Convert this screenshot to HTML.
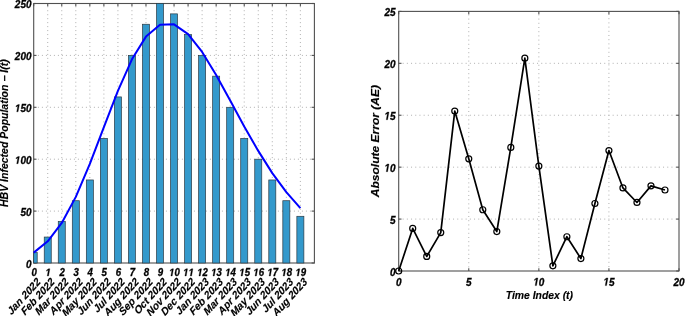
<!DOCTYPE html>
<html><head><meta charset="utf-8"><style>
html,body{margin:0;padding:0;background:#fff;width:685px;height:316px;overflow:hidden}
svg{display:block}
text.lt{stroke-width:0.15px}
.g1{fill:#000;stroke:#000;stroke-width:0.3px;vector-effect:non-scaling-stroke}
text{font-family:"Liberation Sans",sans-serif;font-weight:bold;font-style:italic;font-size:10.5px;fill:#000;stroke:#000;stroke-width:0.3px}
</style></head><body>
<div style="will-change:transform"><svg width="685" height="316" viewBox="0 0 685 316">
<line x1="47.73" y1="3.5" x2="47.73" y2="263" stroke="#b0b0b0" stroke-width="1" stroke-dasharray="1 2.970" stroke-dashoffset="1.210"/>
<line x1="61.77" y1="3.5" x2="61.77" y2="263" stroke="#b0b0b0" stroke-width="1" stroke-dasharray="1 2.970" stroke-dashoffset="1.210"/>
<line x1="75.81" y1="3.5" x2="75.81" y2="263" stroke="#b0b0b0" stroke-width="1" stroke-dasharray="1 2.970" stroke-dashoffset="1.210"/>
<line x1="89.84" y1="3.5" x2="89.84" y2="263" stroke="#b0b0b0" stroke-width="1" stroke-dasharray="1 2.970" stroke-dashoffset="1.210"/>
<line x1="103.88" y1="3.5" x2="103.88" y2="263" stroke="#b0b0b0" stroke-width="1" stroke-dasharray="1 2.970" stroke-dashoffset="1.210"/>
<line x1="117.91" y1="3.5" x2="117.91" y2="263" stroke="#b0b0b0" stroke-width="1" stroke-dasharray="1 2.970" stroke-dashoffset="1.210"/>
<line x1="131.94" y1="3.5" x2="131.94" y2="263" stroke="#b0b0b0" stroke-width="1" stroke-dasharray="1 2.970" stroke-dashoffset="1.210"/>
<line x1="145.98" y1="3.5" x2="145.98" y2="263" stroke="#b0b0b0" stroke-width="1" stroke-dasharray="1 2.970" stroke-dashoffset="1.210"/>
<line x1="160.01" y1="3.5" x2="160.01" y2="263" stroke="#b0b0b0" stroke-width="1" stroke-dasharray="1 2.970" stroke-dashoffset="1.210"/>
<line x1="174.05" y1="3.5" x2="174.05" y2="263" stroke="#b0b0b0" stroke-width="1" stroke-dasharray="1 2.970" stroke-dashoffset="1.210"/>
<line x1="188.08" y1="3.5" x2="188.08" y2="263" stroke="#b0b0b0" stroke-width="1" stroke-dasharray="1 2.970" stroke-dashoffset="1.210"/>
<line x1="202.12" y1="3.5" x2="202.12" y2="263" stroke="#b0b0b0" stroke-width="1" stroke-dasharray="1 2.970" stroke-dashoffset="1.210"/>
<line x1="216.15" y1="3.5" x2="216.15" y2="263" stroke="#b0b0b0" stroke-width="1" stroke-dasharray="1 2.970" stroke-dashoffset="1.210"/>
<line x1="230.19" y1="3.5" x2="230.19" y2="263" stroke="#b0b0b0" stroke-width="1" stroke-dasharray="1 2.970" stroke-dashoffset="1.210"/>
<line x1="244.23" y1="3.5" x2="244.23" y2="263" stroke="#b0b0b0" stroke-width="1" stroke-dasharray="1 2.970" stroke-dashoffset="1.210"/>
<line x1="258.26" y1="3.5" x2="258.26" y2="263" stroke="#b0b0b0" stroke-width="1" stroke-dasharray="1 2.970" stroke-dashoffset="1.210"/>
<line x1="272.29" y1="3.5" x2="272.29" y2="263" stroke="#b0b0b0" stroke-width="1" stroke-dasharray="1 2.970" stroke-dashoffset="1.210"/>
<line x1="286.33" y1="3.5" x2="286.33" y2="263" stroke="#b0b0b0" stroke-width="1" stroke-dasharray="1 2.970" stroke-dashoffset="1.210"/>
<line x1="300.37" y1="3.5" x2="300.37" y2="263" stroke="#b0b0b0" stroke-width="1" stroke-dasharray="1 2.970" stroke-dashoffset="1.210"/>
<line x1="33.7" y1="211.1" x2="314.4" y2="211.1" stroke="#b0b0b0" stroke-width="1" stroke-dasharray="1 3.000" stroke-dashoffset="3.800"/>
<line x1="33.7" y1="159.2" x2="314.4" y2="159.2" stroke="#b0b0b0" stroke-width="1" stroke-dasharray="1 3.000" stroke-dashoffset="3.800"/>
<line x1="33.7" y1="107.3" x2="314.4" y2="107.3" stroke="#b0b0b0" stroke-width="1" stroke-dasharray="1 3.000" stroke-dashoffset="3.800"/>
<line x1="33.7" y1="55.4" x2="314.4" y2="55.4" stroke="#b0b0b0" stroke-width="1" stroke-dasharray="1 3.000" stroke-dashoffset="3.800"/>
<line x1="33.7" y1="263" x2="33.7" y2="260.2" stroke="#505050" stroke-width="1.1"/>
<line x1="33.7" y1="3.5" x2="33.7" y2="6.3" stroke="#505050" stroke-width="1.1"/>
<line x1="47.73" y1="263" x2="47.73" y2="260.2" stroke="#505050" stroke-width="1.1"/>
<line x1="47.73" y1="3.5" x2="47.73" y2="6.3" stroke="#505050" stroke-width="1.1"/>
<line x1="61.77" y1="263" x2="61.77" y2="260.2" stroke="#505050" stroke-width="1.1"/>
<line x1="61.77" y1="3.5" x2="61.77" y2="6.3" stroke="#505050" stroke-width="1.1"/>
<line x1="75.81" y1="263" x2="75.81" y2="260.2" stroke="#505050" stroke-width="1.1"/>
<line x1="75.81" y1="3.5" x2="75.81" y2="6.3" stroke="#505050" stroke-width="1.1"/>
<line x1="89.84" y1="263" x2="89.84" y2="260.2" stroke="#505050" stroke-width="1.1"/>
<line x1="89.84" y1="3.5" x2="89.84" y2="6.3" stroke="#505050" stroke-width="1.1"/>
<line x1="103.88" y1="263" x2="103.88" y2="260.2" stroke="#505050" stroke-width="1.1"/>
<line x1="103.88" y1="3.5" x2="103.88" y2="6.3" stroke="#505050" stroke-width="1.1"/>
<line x1="117.91" y1="263" x2="117.91" y2="260.2" stroke="#505050" stroke-width="1.1"/>
<line x1="117.91" y1="3.5" x2="117.91" y2="6.3" stroke="#505050" stroke-width="1.1"/>
<line x1="131.94" y1="263" x2="131.94" y2="260.2" stroke="#505050" stroke-width="1.1"/>
<line x1="131.94" y1="3.5" x2="131.94" y2="6.3" stroke="#505050" stroke-width="1.1"/>
<line x1="145.98" y1="263" x2="145.98" y2="260.2" stroke="#505050" stroke-width="1.1"/>
<line x1="145.98" y1="3.5" x2="145.98" y2="6.3" stroke="#505050" stroke-width="1.1"/>
<line x1="160.01" y1="263" x2="160.01" y2="260.2" stroke="#505050" stroke-width="1.1"/>
<line x1="160.01" y1="3.5" x2="160.01" y2="6.3" stroke="#505050" stroke-width="1.1"/>
<line x1="174.05" y1="263" x2="174.05" y2="260.2" stroke="#505050" stroke-width="1.1"/>
<line x1="174.05" y1="3.5" x2="174.05" y2="6.3" stroke="#505050" stroke-width="1.1"/>
<line x1="188.08" y1="263" x2="188.08" y2="260.2" stroke="#505050" stroke-width="1.1"/>
<line x1="188.08" y1="3.5" x2="188.08" y2="6.3" stroke="#505050" stroke-width="1.1"/>
<line x1="202.12" y1="263" x2="202.12" y2="260.2" stroke="#505050" stroke-width="1.1"/>
<line x1="202.12" y1="3.5" x2="202.12" y2="6.3" stroke="#505050" stroke-width="1.1"/>
<line x1="216.15" y1="263" x2="216.15" y2="260.2" stroke="#505050" stroke-width="1.1"/>
<line x1="216.15" y1="3.5" x2="216.15" y2="6.3" stroke="#505050" stroke-width="1.1"/>
<line x1="230.19" y1="263" x2="230.19" y2="260.2" stroke="#505050" stroke-width="1.1"/>
<line x1="230.19" y1="3.5" x2="230.19" y2="6.3" stroke="#505050" stroke-width="1.1"/>
<line x1="244.23" y1="263" x2="244.23" y2="260.2" stroke="#505050" stroke-width="1.1"/>
<line x1="244.23" y1="3.5" x2="244.23" y2="6.3" stroke="#505050" stroke-width="1.1"/>
<line x1="258.26" y1="263" x2="258.26" y2="260.2" stroke="#505050" stroke-width="1.1"/>
<line x1="258.26" y1="3.5" x2="258.26" y2="6.3" stroke="#505050" stroke-width="1.1"/>
<line x1="272.29" y1="263" x2="272.29" y2="260.2" stroke="#505050" stroke-width="1.1"/>
<line x1="272.29" y1="3.5" x2="272.29" y2="6.3" stroke="#505050" stroke-width="1.1"/>
<line x1="286.33" y1="263" x2="286.33" y2="260.2" stroke="#505050" stroke-width="1.1"/>
<line x1="286.33" y1="3.5" x2="286.33" y2="6.3" stroke="#505050" stroke-width="1.1"/>
<line x1="300.37" y1="263" x2="300.37" y2="260.2" stroke="#505050" stroke-width="1.1"/>
<line x1="300.37" y1="3.5" x2="300.37" y2="6.3" stroke="#505050" stroke-width="1.1"/>
<line x1="33.7" y1="263" x2="36.5" y2="263" stroke="#505050" stroke-width="1.1"/>
<line x1="314.4" y1="263" x2="311.6" y2="263" stroke="#505050" stroke-width="1.1"/>
<line x1="33.7" y1="211.1" x2="36.5" y2="211.1" stroke="#505050" stroke-width="1.1"/>
<line x1="314.4" y1="211.1" x2="311.6" y2="211.1" stroke="#505050" stroke-width="1.1"/>
<line x1="33.7" y1="159.2" x2="36.5" y2="159.2" stroke="#505050" stroke-width="1.1"/>
<line x1="314.4" y1="159.2" x2="311.6" y2="159.2" stroke="#505050" stroke-width="1.1"/>
<line x1="33.7" y1="107.3" x2="36.5" y2="107.3" stroke="#505050" stroke-width="1.1"/>
<line x1="314.4" y1="107.3" x2="311.6" y2="107.3" stroke="#505050" stroke-width="1.1"/>
<line x1="33.7" y1="55.4" x2="36.5" y2="55.4" stroke="#505050" stroke-width="1.1"/>
<line x1="314.4" y1="55.4" x2="311.6" y2="55.4" stroke="#505050" stroke-width="1.1"/>
<line x1="33.7" y1="3.5" x2="36.5" y2="3.5" stroke="#505050" stroke-width="1.1"/>
<line x1="314.4" y1="3.5" x2="311.6" y2="3.5" stroke="#505050" stroke-width="1.1"/>
<rect x="33.7" y="3.5" width="280.7" height="259.5" fill="none" stroke="#505050" stroke-width="1.1"/>
<rect x="33.7" y="252.62" width="3.51" height="10.38" fill="#3399cc" stroke="#2b3a44" stroke-width="0.7"/>
<rect x="44.23" y="237.05" width="7.02" height="25.95" fill="#3399cc" stroke="#2b3a44" stroke-width="0.7"/>
<rect x="58.26" y="221.48" width="7.02" height="41.52" fill="#3399cc" stroke="#2b3a44" stroke-width="0.7"/>
<rect x="72.3" y="200.72" width="7.02" height="62.28" fill="#3399cc" stroke="#2b3a44" stroke-width="0.7"/>
<rect x="86.33" y="179.96" width="7.02" height="83.04" fill="#3399cc" stroke="#2b3a44" stroke-width="0.7"/>
<rect x="100.37" y="138.44" width="7.02" height="124.56" fill="#3399cc" stroke="#2b3a44" stroke-width="0.7"/>
<rect x="114.4" y="96.92" width="7.02" height="166.08" fill="#3399cc" stroke="#2b3a44" stroke-width="0.7"/>
<rect x="128.44" y="55.4" width="7.02" height="207.6" fill="#3399cc" stroke="#2b3a44" stroke-width="0.7"/>
<rect x="142.47" y="24.26" width="7.02" height="238.74" fill="#3399cc" stroke="#2b3a44" stroke-width="0.7"/>
<rect x="156.51" y="3.5" width="7.02" height="259.5" fill="#3399cc" stroke="#2b3a44" stroke-width="0.7"/>
<rect x="170.54" y="13.88" width="7.02" height="249.12" fill="#3399cc" stroke="#2b3a44" stroke-width="0.7"/>
<rect x="184.58" y="34.64" width="7.02" height="228.36" fill="#3399cc" stroke="#2b3a44" stroke-width="0.7"/>
<rect x="198.61" y="55.4" width="7.02" height="207.6" fill="#3399cc" stroke="#2b3a44" stroke-width="0.7"/>
<rect x="212.65" y="76.16" width="7.02" height="186.84" fill="#3399cc" stroke="#2b3a44" stroke-width="0.7"/>
<rect x="226.68" y="107.3" width="7.02" height="155.7" fill="#3399cc" stroke="#2b3a44" stroke-width="0.7"/>
<rect x="240.72" y="138.44" width="7.02" height="124.56" fill="#3399cc" stroke="#2b3a44" stroke-width="0.7"/>
<rect x="254.75" y="159.2" width="7.02" height="103.8" fill="#3399cc" stroke="#2b3a44" stroke-width="0.7"/>
<rect x="268.79" y="179.96" width="7.02" height="83.04" fill="#3399cc" stroke="#2b3a44" stroke-width="0.7"/>
<rect x="282.82" y="200.72" width="7.02" height="62.28" fill="#3399cc" stroke="#2b3a44" stroke-width="0.7"/>
<rect x="296.86" y="216.29" width="7.02" height="46.71" fill="#3399cc" stroke="#2b3a44" stroke-width="0.7"/>
<polyline points="33.7,252.62 47.73,241.31 61.77,222.93 75.81,196.88 89.84,163.97 103.88,127.23 117.91,90.8 131.94,59.34 145.98,36.61 160.01,24.78 174.05,24.36 188.08,34.12 202.12,51.97 216.15,74.91 230.19,100.55 244.23,126.4 258.26,150.9 272.29,173.11 286.33,192.21 300.37,208.19" fill="none" stroke="#0000ff" stroke-width="2" stroke-linejoin="round"/>
<text transform="translate(31.5 267.5) scale(0.95 1)" text-anchor="end">0</text>
<text transform="translate(31.5 215.6) scale(0.95 1)" text-anchor="end">50</text>
<g transform="translate(31.5 163.7) scale(0.95 1)"><path d="M380 0L604 1152L223 938L270 1180L666 1409L936 1409L661 0Z" transform="translate(-17.52 0) scale(0.005127 -0.005127)" class="g1"/><text x="-11.68" y="0">0</text><text x="-5.84" y="0">0</text></g>
<g transform="translate(31.5 111.8) scale(0.95 1)"><path d="M380 0L604 1152L223 938L270 1180L666 1409L936 1409L661 0Z" transform="translate(-17.52 0) scale(0.005127 -0.005127)" class="g1"/><text x="-11.68" y="0">5</text><text x="-5.84" y="0">0</text></g>
<text transform="translate(31.5 59.9) scale(0.95 1)" text-anchor="end">200</text>
<text transform="translate(31.5 8) scale(0.95 1)" text-anchor="end">250</text>
<text transform="translate(34.1 276) scale(0.92 1)" text-anchor="middle">0</text>
<g transform="translate(48.13 276) scale(0.92 1)"><path d="M380 0L604 1152L223 938L270 1180L666 1409L936 1409L661 0Z" transform="translate(-2.92 0) scale(0.005127 -0.005127)" class="g1"/></g>
<text transform="translate(62.17 276) scale(0.92 1)" text-anchor="middle">2</text>
<text transform="translate(76.21 276) scale(0.92 1)" text-anchor="middle">3</text>
<text transform="translate(90.24 276) scale(0.92 1)" text-anchor="middle">4</text>
<text transform="translate(104.28 276) scale(0.92 1)" text-anchor="middle">5</text>
<text transform="translate(118.31 276) scale(0.92 1)" text-anchor="middle">6</text>
<text transform="translate(132.34 276) scale(0.92 1)" text-anchor="middle">7</text>
<text transform="translate(146.38 276) scale(0.92 1)" text-anchor="middle">8</text>
<text transform="translate(160.41 276) scale(0.92 1)" text-anchor="middle">9</text>
<g transform="translate(174.45 276) scale(0.92 1)"><path d="M380 0L604 1152L223 938L270 1180L666 1409L936 1409L661 0Z" transform="translate(-5.84 0) scale(0.005127 -0.005127)" class="g1"/><text x="0.00" y="0">0</text></g>
<g transform="translate(188.48 276) scale(0.92 1)"><path d="M380 0L604 1152L223 938L270 1180L666 1409L936 1409L661 0Z" transform="translate(-5.84 0) scale(0.005127 -0.005127)" class="g1"/><path d="M380 0L604 1152L223 938L270 1180L666 1409L936 1409L661 0Z" transform="translate(0.00 0) scale(0.005127 -0.005127)" class="g1"/></g>
<g transform="translate(202.52 276) scale(0.92 1)"><path d="M380 0L604 1152L223 938L270 1180L666 1409L936 1409L661 0Z" transform="translate(-5.84 0) scale(0.005127 -0.005127)" class="g1"/><text x="0.00" y="0">2</text></g>
<g transform="translate(216.55 276) scale(0.92 1)"><path d="M380 0L604 1152L223 938L270 1180L666 1409L936 1409L661 0Z" transform="translate(-5.84 0) scale(0.005127 -0.005127)" class="g1"/><text x="0.00" y="0">3</text></g>
<g transform="translate(230.59 276) scale(0.92 1)"><path d="M380 0L604 1152L223 938L270 1180L666 1409L936 1409L661 0Z" transform="translate(-5.84 0) scale(0.005127 -0.005127)" class="g1"/><text x="0.00" y="0">4</text></g>
<g transform="translate(244.63 276) scale(0.92 1)"><path d="M380 0L604 1152L223 938L270 1180L666 1409L936 1409L661 0Z" transform="translate(-5.84 0) scale(0.005127 -0.005127)" class="g1"/><text x="0.00" y="0">5</text></g>
<g transform="translate(258.66 276) scale(0.92 1)"><path d="M380 0L604 1152L223 938L270 1180L666 1409L936 1409L661 0Z" transform="translate(-5.84 0) scale(0.005127 -0.005127)" class="g1"/><text x="0.00" y="0">6</text></g>
<g transform="translate(272.69 276) scale(0.92 1)"><path d="M380 0L604 1152L223 938L270 1180L666 1409L936 1409L661 0Z" transform="translate(-5.84 0) scale(0.005127 -0.005127)" class="g1"/><text x="0.00" y="0">7</text></g>
<g transform="translate(286.73 276) scale(0.92 1)"><path d="M380 0L604 1152L223 938L270 1180L666 1409L936 1409L661 0Z" transform="translate(-5.84 0) scale(0.005127 -0.005127)" class="g1"/><text x="0.00" y="0">8</text></g>
<g transform="translate(300.76 276) scale(0.92 1)"><path d="M380 0L604 1152L223 938L270 1180L666 1409L936 1409L661 0Z" transform="translate(-5.84 0) scale(0.005127 -0.005127)" class="g1"/><text x="0.00" y="0">9</text></g>
<text transform="translate(41.2 282.5) scale(0.95 1.05) rotate(-45)" text-anchor="end" class="lt">Jan 2022</text>
<text transform="translate(55.23 282.5) scale(0.95 1.05) rotate(-45)" text-anchor="end" class="lt">Feb 2022</text>
<text transform="translate(69.27 282.5) scale(0.95 1.05) rotate(-45)" text-anchor="end" class="lt">Mar 2022</text>
<text transform="translate(83.31 282.5) scale(0.95 1.05) rotate(-45)" text-anchor="end" class="lt">Apr 2022</text>
<text transform="translate(97.34 282.5) scale(0.95 1.05) rotate(-45)" text-anchor="end" class="lt">May 2022</text>
<text transform="translate(111.38 282.5) scale(0.95 1.05) rotate(-45)" text-anchor="end" class="lt">Jun 2022</text>
<text transform="translate(125.41 282.5) scale(0.95 1.05) rotate(-45)" text-anchor="end" class="lt">Jul 2022</text>
<text transform="translate(139.44 282.5) scale(0.95 1.05) rotate(-45)" text-anchor="end" class="lt">Aug 2022</text>
<text transform="translate(153.48 282.5) scale(0.95 1.05) rotate(-45)" text-anchor="end" class="lt">Sep 2022</text>
<text transform="translate(167.51 282.5) scale(0.95 1.05) rotate(-45)" text-anchor="end" class="lt">Oct 2022</text>
<text transform="translate(181.55 282.5) scale(0.95 1.05) rotate(-45)" text-anchor="end" class="lt">Nov 2022</text>
<text transform="translate(195.58 282.5) scale(0.95 1.05) rotate(-45)" text-anchor="end" class="lt">Dec 2022</text>
<text transform="translate(209.62 282.5) scale(0.95 1.05) rotate(-45)" text-anchor="end" class="lt">Jan 2023</text>
<text transform="translate(223.65 282.5) scale(0.95 1.05) rotate(-45)" text-anchor="end" class="lt">Feb 2023</text>
<text transform="translate(237.69 282.5) scale(0.95 1.05) rotate(-45)" text-anchor="end" class="lt">Mar 2023</text>
<text transform="translate(251.73 282.5) scale(0.95 1.05) rotate(-45)" text-anchor="end" class="lt">Apr 2023</text>
<text transform="translate(265.76 282.5) scale(0.95 1.05) rotate(-45)" text-anchor="end" class="lt">May 2023</text>
<text transform="translate(279.79 282.5) scale(0.95 1.05) rotate(-45)" text-anchor="end" class="lt">Jun 2023</text>
<text transform="translate(293.83 282.5) scale(0.95 1.05) rotate(-45)" text-anchor="end" class="lt">Jul 2023</text>
<text transform="translate(307.87 282.5) scale(0.95 1.05) rotate(-45)" text-anchor="end" class="lt">Aug 2023</text>
<text transform="translate(7.7 133.1) scale(0.96 1) rotate(-90)" text-anchor="middle" class="lt">HBV Infected Population − I(t)</text>
<line x1="468.77" y1="11.4" x2="468.77" y2="271" stroke="#b0b0b0" stroke-width="1" stroke-dasharray="1 3.200" stroke-dashoffset="1.210"/>
<line x1="538.85" y1="11.4" x2="538.85" y2="271" stroke="#b0b0b0" stroke-width="1" stroke-dasharray="1 3.200" stroke-dashoffset="1.210"/>
<line x1="608.92" y1="11.4" x2="608.92" y2="271" stroke="#b0b0b0" stroke-width="1" stroke-dasharray="1 3.200" stroke-dashoffset="1.600"/>
<line x1="398.7" y1="219.08" x2="679" y2="219.08" stroke="#b0b0b0" stroke-width="1" stroke-dasharray="1 3.200" stroke-dashoffset="0.250"/>
<line x1="398.7" y1="167.16" x2="679" y2="167.16" stroke="#b0b0b0" stroke-width="1" stroke-dasharray="1 3.200" stroke-dashoffset="0.250"/>
<line x1="398.7" y1="115.24" x2="679" y2="115.24" stroke="#b0b0b0" stroke-width="1" stroke-dasharray="1 3.200" stroke-dashoffset="0.250"/>
<line x1="398.7" y1="63.32" x2="679" y2="63.32" stroke="#b0b0b0" stroke-width="1" stroke-dasharray="1 3.200" stroke-dashoffset="0.250"/>
<line x1="398.7" y1="271" x2="398.7" y2="268.2" stroke="#505050" stroke-width="1.1"/>
<line x1="398.7" y1="11.4" x2="398.7" y2="14.2" stroke="#505050" stroke-width="1.1"/>
<line x1="468.77" y1="271" x2="468.77" y2="268.2" stroke="#505050" stroke-width="1.1"/>
<line x1="468.77" y1="11.4" x2="468.77" y2="14.2" stroke="#505050" stroke-width="1.1"/>
<line x1="538.85" y1="271" x2="538.85" y2="268.2" stroke="#505050" stroke-width="1.1"/>
<line x1="538.85" y1="11.4" x2="538.85" y2="14.2" stroke="#505050" stroke-width="1.1"/>
<line x1="608.92" y1="271" x2="608.92" y2="268.2" stroke="#505050" stroke-width="1.1"/>
<line x1="608.92" y1="11.4" x2="608.92" y2="14.2" stroke="#505050" stroke-width="1.1"/>
<line x1="679" y1="271" x2="679" y2="268.2" stroke="#505050" stroke-width="1.1"/>
<line x1="679" y1="11.4" x2="679" y2="14.2" stroke="#505050" stroke-width="1.1"/>
<line x1="398.7" y1="271" x2="401.5" y2="271" stroke="#505050" stroke-width="1.1"/>
<line x1="679" y1="271" x2="676.2" y2="271" stroke="#505050" stroke-width="1.1"/>
<line x1="398.7" y1="219.08" x2="401.5" y2="219.08" stroke="#505050" stroke-width="1.1"/>
<line x1="679" y1="219.08" x2="676.2" y2="219.08" stroke="#505050" stroke-width="1.1"/>
<line x1="398.7" y1="167.16" x2="401.5" y2="167.16" stroke="#505050" stroke-width="1.1"/>
<line x1="679" y1="167.16" x2="676.2" y2="167.16" stroke="#505050" stroke-width="1.1"/>
<line x1="398.7" y1="115.24" x2="401.5" y2="115.24" stroke="#505050" stroke-width="1.1"/>
<line x1="679" y1="115.24" x2="676.2" y2="115.24" stroke="#505050" stroke-width="1.1"/>
<line x1="398.7" y1="63.32" x2="401.5" y2="63.32" stroke="#505050" stroke-width="1.1"/>
<line x1="679" y1="63.32" x2="676.2" y2="63.32" stroke="#505050" stroke-width="1.1"/>
<line x1="398.7" y1="11.4" x2="401.5" y2="11.4" stroke="#505050" stroke-width="1.1"/>
<line x1="679" y1="11.4" x2="676.2" y2="11.4" stroke="#505050" stroke-width="1.1"/>
<rect x="398.7" y="11.4" width="280.3" height="259.6" fill="none" stroke="#505050" stroke-width="1.1"/>
<polyline points="398.7,271 412.71,228.43 426.73,256.46 440.75,232.58 454.76,111.09 468.77,158.85 482.79,209.73 496.81,231.54 510.82,147.43 524.84,58.13 538.85,166.12 552.87,265.81 566.88,236.73 580.89,258.54 594.91,203.5 608.92,150.55 622.94,187.93 636.96,202.47 650.97,185.85 664.98,190" fill="none" stroke="#000" stroke-width="1.7" stroke-linejoin="round"/>
<circle cx="398.7" cy="271" r="3" fill="none" stroke="#000" stroke-width="1.2"/>
<circle cx="412.71" cy="228.43" r="3" fill="none" stroke="#000" stroke-width="1.2"/>
<circle cx="426.73" cy="256.46" r="3" fill="none" stroke="#000" stroke-width="1.2"/>
<circle cx="440.75" cy="232.58" r="3" fill="none" stroke="#000" stroke-width="1.2"/>
<circle cx="454.76" cy="111.09" r="3" fill="none" stroke="#000" stroke-width="1.2"/>
<circle cx="468.77" cy="158.85" r="3" fill="none" stroke="#000" stroke-width="1.2"/>
<circle cx="482.79" cy="209.73" r="3" fill="none" stroke="#000" stroke-width="1.2"/>
<circle cx="496.81" cy="231.54" r="3" fill="none" stroke="#000" stroke-width="1.2"/>
<circle cx="510.82" cy="147.43" r="3" fill="none" stroke="#000" stroke-width="1.2"/>
<circle cx="524.84" cy="58.13" r="3" fill="none" stroke="#000" stroke-width="1.2"/>
<circle cx="538.85" cy="166.12" r="3" fill="none" stroke="#000" stroke-width="1.2"/>
<circle cx="552.87" cy="265.81" r="3" fill="none" stroke="#000" stroke-width="1.2"/>
<circle cx="566.88" cy="236.73" r="3" fill="none" stroke="#000" stroke-width="1.2"/>
<circle cx="580.89" cy="258.54" r="3" fill="none" stroke="#000" stroke-width="1.2"/>
<circle cx="594.91" cy="203.5" r="3" fill="none" stroke="#000" stroke-width="1.2"/>
<circle cx="608.92" cy="150.55" r="3" fill="none" stroke="#000" stroke-width="1.2"/>
<circle cx="622.94" cy="187.93" r="3" fill="none" stroke="#000" stroke-width="1.2"/>
<circle cx="636.96" cy="202.47" r="3" fill="none" stroke="#000" stroke-width="1.2"/>
<circle cx="650.97" cy="185.85" r="3" fill="none" stroke="#000" stroke-width="1.2"/>
<circle cx="664.98" cy="190" r="3" fill="none" stroke="#000" stroke-width="1.2"/>
<text transform="translate(395.5 275.5) scale(0.95 1.06)" text-anchor="end">0</text>
<text transform="translate(395.5 223.58) scale(0.95 1.06)" text-anchor="end">5</text>
<g transform="translate(395.5 171.66) scale(0.95 1.06)"><path d="M380 0L604 1152L223 938L270 1180L666 1409L936 1409L661 0Z" transform="translate(-11.68 0) scale(0.005127 -0.005127)" class="g1"/><text x="-5.84" y="0">0</text></g>
<g transform="translate(395.5 119.74) scale(0.95 1.06)"><path d="M380 0L604 1152L223 938L270 1180L666 1409L936 1409L661 0Z" transform="translate(-11.68 0) scale(0.005127 -0.005127)" class="g1"/><text x="-5.84" y="0">5</text></g>
<text transform="translate(395.5 67.82) scale(0.95 1.06)" text-anchor="end">20</text>
<text transform="translate(395.5 15.9) scale(0.95 1.06)" text-anchor="end">25</text>
<text transform="translate(398.7 285.6) scale(0.95 1.06)" text-anchor="middle">0</text>
<text transform="translate(468.77 285.6) scale(0.95 1.06)" text-anchor="middle">5</text>
<g transform="translate(538.85 285.6) scale(0.95 1.06)"><path d="M380 0L604 1152L223 938L270 1180L666 1409L936 1409L661 0Z" transform="translate(-5.84 0) scale(0.005127 -0.005127)" class="g1"/><text x="0.00" y="0">0</text></g>
<g transform="translate(608.92 285.6) scale(0.95 1.06)"><path d="M380 0L604 1152L223 938L270 1180L666 1409L936 1409L661 0Z" transform="translate(-5.84 0) scale(0.005127 -0.005127)" class="g1"/><text x="0.00" y="0">5</text></g>
<text transform="translate(679 285.6) scale(0.95 1.06)" text-anchor="middle">20</text>
<text transform="translate(539.4 298.8) scale(0.99 1.08)" text-anchor="middle" class="lt">Time Index (t)</text>
<text transform="translate(379 141.1) scale(0.97 1.148) rotate(-90)" text-anchor="middle" class="lt">Absolute Error (AE)</text>
</svg></div>
</body></html>
